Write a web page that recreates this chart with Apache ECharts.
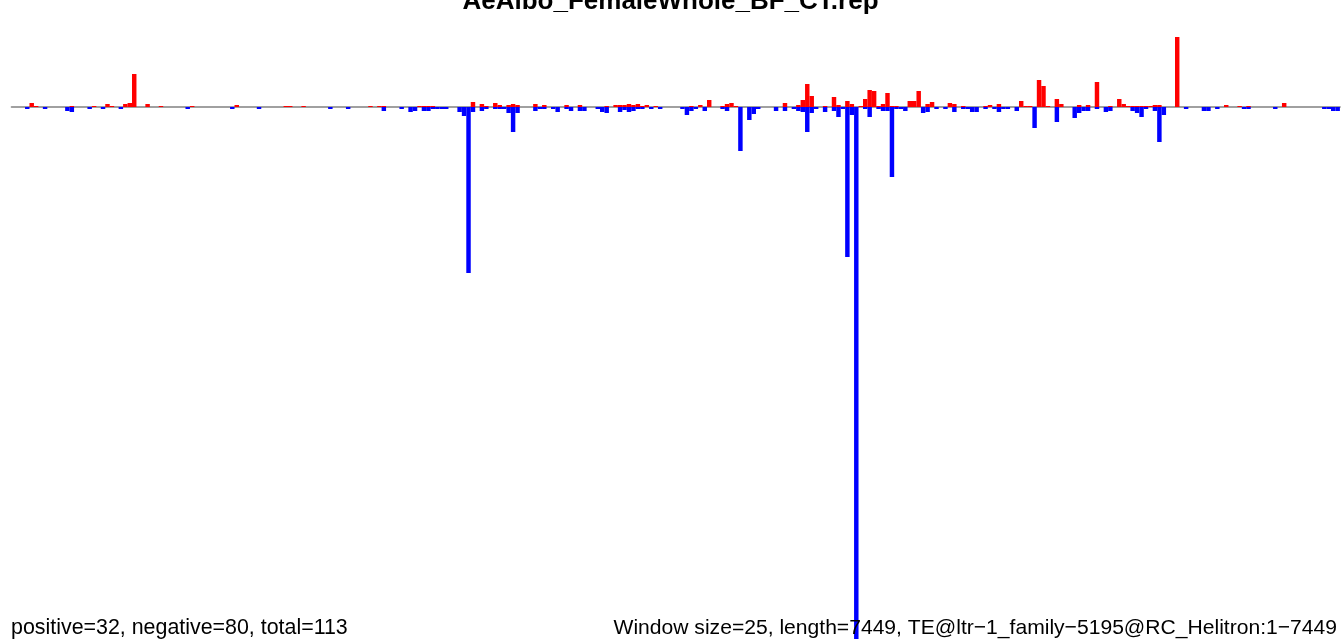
<!DOCTYPE html>
<html>
<head>
<meta charset="utf-8">
<script src="https://cdn.jsdelivr.net/npm/echarts@6/dist/echarts.min.js"></script>
<style>
html,body{margin:0;padding:0;background:#fff;}
#chart{width:1341px;height:639px;}
</style>
</head>
<body>
<div id="chart"></div>
<script>
// ---- data (window index -> value, arbitrary units) ----
const windowCount = 298;
const titleText = 'AeAlbo_FemaleWhole_BF_CT.rep';
const leftNote = 'positive=32, negative=80, total=113';
const rightNote = 'Window size=25, length=7449, TE@ltr\u22121_family\u22125195@RC_Helitron:1\u22127449';

const posWindows = [4,5,13,18,21,22,25,26,27,30,33,40,
  50,61,62,65,80,82,83,
  91,92,93,94,103,105,106,108,109,111,112,113,117,119,124,127,
  133,135,136,137,138,139,140,141,142,144,152,154,156,159,160,161,162,
  173,176,177,178,179,182,184,185,187,188,190,191,192,193,194,195,196,197,198,201,202,203,205,206,210,211,
  213,218,219,221,226,227,228,230,231,232,234,235,239,241,243,246,248,249,250,251,252,253,254,255,256,257,261,272,275,277,285];
const posValues = [4,1,1,1,3,1,3,4,33,3,1,1,
  2,1,1,1,1,1,1,
  1,1,1,1,5,3,1,4,2,2,3,2,3,2,2,2,
  1,2,2,2,3,2,3,1,2,1,1,2,7,1,3,4,1,
  4,2,7,23,11,1,10,2,6,3,1,8,17,16,1,3,14,1,1,6,6,16,3,5,4,3,
  1,1,2,3,6,1,1,27,21,1,8,3,2,2,25,1,8,3,1,1,1,1,1,1,2,2,70,2,1,1,4];

const negWindows = [3,7,12,13,17,20,24,39,
  49,55,71,75,83,
  87,89,90,92,93,94,95,96,97,100,101,102,103,105,106,108,109,110,111,112,113,117,118,119,121,122,124,125,127,128,
  131,132,133,136,137,138,139,140,141,143,145,150,151,152,153,155,159,160,163,165,166,167,
  171,173,175,176,177,178,179,180,182,184,185,186,187,188,189,191,192,194,195,196,197,198,199,200,204,205,207,209,211,
  213,214,215,216,218,220,221,222,223,225,229,234,238,239,240,241,243,245,246,251,252,253,254,256,257,258,263,267,268,270,276,277,283,294,295,296,297];
const negValues = [-2,-2,-4,-5,-2,-2,-2,-2,
  -2,-2,-2,-2,-4,
  -2,-5,-4,-4,-4,-2,-2,-2,-2,-5,-9,-166,-5,-4,-2,-2,-2,-2,-6,-25,-6,-4,-2,-2,-2,-5,-2,-4,-4,-4,
  -2,-5,-6,-5,-3,-5,-4,-2,-2,-2,-2,-2,-8,-4,-2,-4,-2,-4,-44,-13,-7,-2,
  -4,-4,-2,-4,-5,-25,-6,-2,-5,-4,-10,-2,-150,-8,-545,-2,-10,-2,-4,-4,-70,-2,-2,-4,-6,-5,-2,-2,-5,
  -2,-2,-5,-5,-2,-2,-5,-2,-2,-4,-21,-15,-11,-6,-4,-4,-2,-5,-4,-4,-6,-10,-2,-4,-35,-8,-2,-4,-4,-2,-2,-2,-2,-2,-2,-4,-4];

// ---- build series arrays ----
const categories = [];
const posData = [];
const negData = [];
for (let i = 0; i < windowCount; i++) { categories.push(String(i + 1)); posData.push(0); negData.push(0); }
posWindows.forEach((w, k) => { posData[w] = posValues[k]; });
negWindows.forEach((w, k) => { negData[w] = negValues[k]; });

const chart = echarts.init(document.getElementById('chart'), null, {renderer: 'canvas'});
chart.setOption({
  animation: false,
  backgroundColor: '#ffffff',
  grid: {left: 11.66, right: 1.1, top: 0, bottom: 0, containLabel: false},
  xAxis: {
    type: 'category', data: categories, boundaryGap: true,
    axisLine: {show: true, onZero: true, lineStyle: {color: '#a0a0a0', width: 2}},
    axisTick: {show: false}, axisLabel: {show: false}, splitLine: {show: false}
  },
  yAxis: {
    type: 'value', min: -532, max: 107,
    axisLine: {show: false}, axisTick: {show: false}, axisLabel: {show: false}, splitLine: {show: false}
  },
  series: [
    {type: 'bar', name: 'positive', data: posData, barWidth: '100%', barGap: '-100%',
     itemStyle: {color: '#ff0000'}, clip: true, z: 3},
    {type: 'bar', name: 'negative', data: negData, barWidth: '100%', barGap: '-100%',
     itemStyle: {color: '#0000ff'}, clip: true, z: 3}
  ],
  graphic: [
    {type: 'text', left: 'center', top: -11, z: 10,
     style: {text: titleText, font: 'bold 26px "Liberation Sans", Arial, sans-serif', fill: '#000'}},
    {type: 'text', z: 10,
     style: {text: leftNote, x: 11, y: 628, verticalAlign: 'middle', align: 'left',
             font: '21.4px "Liberation Sans", Arial, sans-serif', fill: '#000'}},
    {type: 'text', z: 10,
     style: {text: rightNote, x: 1337, y: 628, verticalAlign: 'middle', align: 'right',
             font: '21.1px "Liberation Sans", Arial, sans-serif', fill: '#000'}}
  ]
});
</script>
</body>
</html>
